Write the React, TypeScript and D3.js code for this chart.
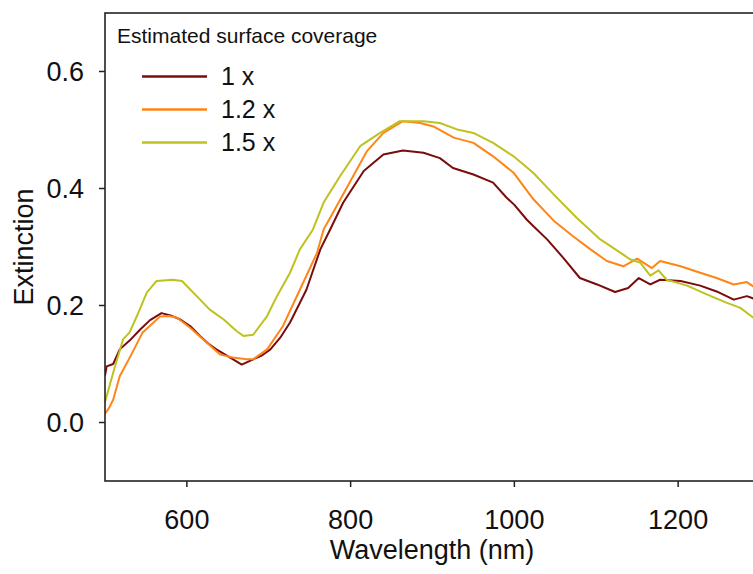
import React from "react";
import * as d3 from "d3";

// ---- data ----
const wl1x = [500, 502, 510, 518, 530, 543, 555, 569, 580, 592, 604, 616, 626, 636, 653, 667, 681, 692, 702, 714, 726, 746, 763, 775, 791, 816, 840, 864, 889, 909, 925, 950, 974, 990, 1000, 1015, 1023, 1040, 1060, 1080, 1101, 1123, 1139, 1152, 1166, 1178, 1203, 1227, 1247, 1268, 1284, 1300];
const ext1x = [0.08, 0.096, 0.1, 0.125, 0.14, 0.159, 0.175, 0.187, 0.183, 0.176, 0.165, 0.148, 0.135, 0.125, 0.111, 0.099, 0.108, 0.115, 0.125, 0.145, 0.171, 0.227, 0.296, 0.33, 0.376, 0.43, 0.458, 0.465, 0.461, 0.452, 0.435, 0.424, 0.41, 0.385, 0.372, 0.347, 0.336, 0.313, 0.281, 0.247, 0.236, 0.223, 0.23, 0.247, 0.236, 0.244, 0.242, 0.234, 0.224, 0.21, 0.216, 0.208];

const wl12x = [500, 505, 510, 518, 531, 546, 567, 578, 588, 604, 620, 641, 656, 673, 681, 698, 717, 738, 759, 767, 783, 803, 820, 840, 864, 885, 901, 926, 950, 974, 999, 1023, 1048, 1072, 1093, 1113, 1133, 1150, 1168, 1178, 1203, 1227, 1247, 1268, 1284, 1300];
const ext12x = [0.015, 0.025, 0.039, 0.079, 0.113, 0.154, 0.181, 0.182, 0.179, 0.162, 0.142, 0.116, 0.111, 0.108, 0.108, 0.125, 0.164, 0.227, 0.29, 0.33, 0.37, 0.421, 0.464, 0.495, 0.515, 0.512, 0.506, 0.487, 0.478, 0.455, 0.427, 0.382, 0.345, 0.318, 0.296, 0.276, 0.267, 0.28, 0.264, 0.276, 0.267, 0.256, 0.247, 0.236, 0.24, 0.225];

const wl15x = [500, 510, 522, 530, 539, 551, 563, 583, 594, 612, 628, 645, 661, 669, 681, 698, 710, 726, 738, 754, 767, 787, 812, 836, 860, 889, 909, 930, 950, 974, 999, 1023, 1048, 1076, 1105, 1133, 1141, 1154, 1166, 1176, 1186, 1211, 1235, 1259, 1276, 1292, 1300];
const ext15x = [0.035, 0.085, 0.142, 0.154, 0.182, 0.222, 0.242, 0.244, 0.242, 0.216, 0.193, 0.176, 0.156, 0.148, 0.15, 0.182, 0.216, 0.256, 0.296, 0.33, 0.376, 0.421, 0.473, 0.495, 0.515, 0.515, 0.512, 0.501, 0.495, 0.478, 0.455, 0.427, 0.39, 0.35, 0.313, 0.287, 0.279, 0.273, 0.251, 0.26, 0.244, 0.234, 0.219, 0.205, 0.196, 0.179, 0.175];

const seriesLabels = ["1 x", "1.2 x", "1.5 x"];
const seriesColors = ["#7B0C0C", "#FF8517", "#BEC21E"];
const xTicks = [600, 800, 1000, 1200];
const yTicks = [0.0, 0.2, 0.4, 0.6];
const legendTitle = "Estimated surface coverage";
const xTitle = "Wavelength (nm)";
const yTitle = "Extinction";

export default function App() {
  const W = 753, H = 574;
  const left = 105, right = 760, top = 13, bottom = 481;
  const x = d3.scaleLinear().domain([500, 1300]).range([left, right]);
  const y = d3.scaleLinear().domain([-0.1, 0.7]).range([bottom, top]);
  const font = "'Liberation Sans', Arial, sans-serif";

  const series = [
    { wl: wl1x, v: ext1x },
    { wl: wl12x, v: ext12x },
    { wl: wl15x, v: ext15x },
  ];
  const line = d3
    .line<[number, number]>()
    .x((d) => x(d[0]))
    .y((d) => y(d[1]));

  return (
    <svg
      width={W}
      height={H}
      style={{ position: "absolute", left: 0, top: 0, background: "#fff" }}
      fontFamily={font}
    >
      <defs>
        <clipPath id="plotclip">
          <rect x={left} y={top} width={right - left} height={bottom - top} />
        </clipPath>
      </defs>
      <rect x={0} y={0} width={W} height={H} fill="#fff" />
      <g clipPath="url(#plotclip)">
        {series.map((s, i) => (
          <path
            key={i}
            d={line(s.wl.map((w, j) => [w, s.v[j]] as [number, number])) || ""}
            fill="none"
            stroke={seriesColors[i]}
            strokeWidth={2}
            strokeLinejoin="round"
          />
        ))}
      </g>
      {/* frame */}
      <rect x={left} y={top} width={right - left} height={bottom - top} fill="none" stroke="#222" strokeWidth={1.6} />
      {/* y ticks */}
      {yTicks.map((t) => (
        <g key={t}>
          <line x1={left - 6} x2={left} y1={y(t)} y2={y(t)} stroke="#222" strokeWidth={1.5} />
          <text x={84} y={y(t)} dy="0.35em" textAnchor="end" fontSize={27} fill="#111">
            {t.toFixed(1)}
          </text>
        </g>
      ))}
      {/* x ticks */}
      {xTicks.map((t) => (
        <g key={t}>
          <line x1={x(t)} x2={x(t)} y1={bottom} y2={bottom + 6} stroke="#222" strokeWidth={1.5} />
          <text x={x(t)} y={529} textAnchor="middle" fontSize={27} fill="#111">
            {t}
          </text>
        </g>
      ))}
      <text x={432} y={559} textAnchor="middle" fontSize={27} fill="#111">
        {xTitle}
      </text>
      <text transform={`translate(33,${(top + bottom) / 2}) rotate(-90)`} textAnchor="middle" fontSize={27} fill="#111">
        {yTitle}
      </text>
      {/* legend */}
      <text x={117} y={43} fontSize={21} fill="#111">
        {legendTitle}
      </text>
      {seriesLabels.map((lab, i) => {
        const cy = 76.5 + i * 33;
        return (
          <g key={lab}>
            <line x1={142} x2={207} y1={cy} y2={cy} stroke={seriesColors[i]} strokeWidth={2.5} />
            <text x={221} y={cy + 8.5} fontSize={25} fill="#111">
              {lab}
            </text>
          </g>
        );
      })}
    </svg>
  );
}
